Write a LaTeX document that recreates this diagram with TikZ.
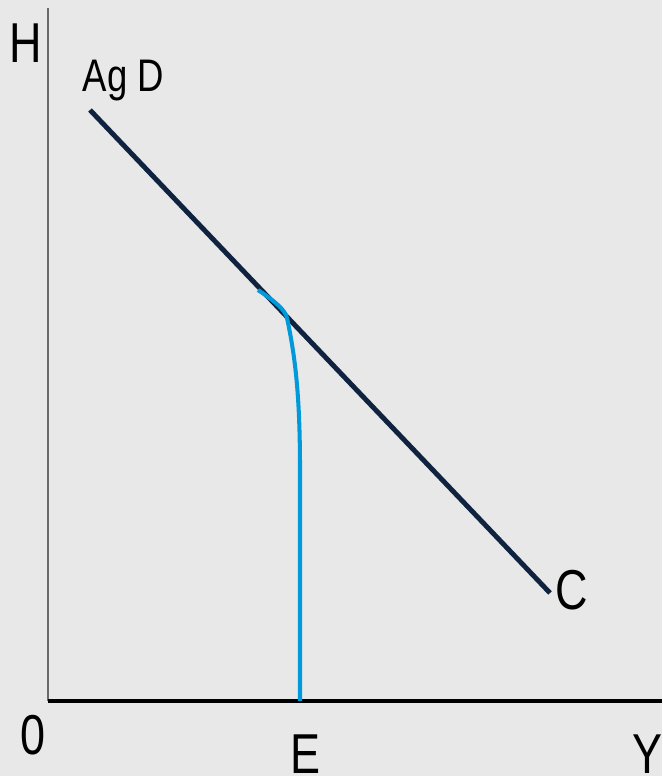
\documentclass[tikz,border=0pt]{standalone}
\usepackage{fontspec}
\setmainfont{Liberation Sans}[FakeStretch=0.8]
\usepackage{xcolor}
\usetikzlibrary{positioning}
\definecolor{PaleGrey}{HTML}{E8E8E8}
\definecolor{InkNavy}{HTML}{0F2340}
\definecolor{SkyBlue}{HTML}{009ADB}
\definecolor{AxisGrey}{HTML}{6A6A6A}

\begin{document}
\begin{tikzpicture}[x=0.02cm,y=-0.02cm,
  lbl/.style={inner sep=0pt,anchor=base,font=\fontsize{32}{36}\selectfont},
  small/.style={inner sep=0pt,anchor=base,font=\fontsize{26}{30}\selectfont}]
  \fill[PaleGrey] (0,0) rectangle (662,776);
  \useasboundingbox (0,0) rectangle (662,776);
  % axes
  \coordinate (top) at (48,8);
  \coordinate (orig) at (48,701);
  \coordinate (right) at (662,701);
  \draw[AxisGrey,line width=1.1pt] (orig) -- (top);
  \draw[black,line width=2.2pt] (orig) -- (right);
  % labels
  \node[lbl] (h) at (26,63) {H};
  \node[lbl] (zero) at (33.5,754) {0};
  \node[lbl] (e) at (305,773) {E};
  \node[lbl] (y) at (647,773) {Y};
  \node[lbl] (c) at (572,609) {C};
  \node[small] (agd) at (123.5,92) {Ag D};
  % demand line
  \coordinate (d0) at (90,110);
  \coordinate (d1) at (550,593);
  \draw[InkNavy,line width=2.8pt] (d0) -- (d1);
  % supply curve
  \coordinate (s0) at (258,290);
  \coordinate (s1) at (287,318);
  \coordinate (s2) at (300,470);
  \coordinate (s3) at (300,701);
  \draw[SkyBlue,line width=2.3pt] (s0) .. controls (276,302) and (285,310) .. (s1)
    .. controls (296,360) and (300,400) .. (s2) -- (s3);
\end{tikzpicture}
\end{document}
